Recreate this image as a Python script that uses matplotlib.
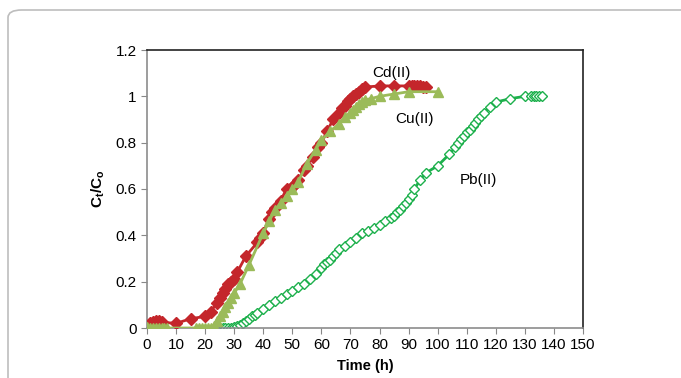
import matplotlib.pyplot as plt
from matplotlib.patches import FancyBboxPatch

plt.rcParams['font.family'] = ['Liberation Sans', 'DejaVu Sans']

# data
cd_t = [0, 1, 2, 3, 4, 5, 10, 15, 20, 22, 24, 25, 26, 27, 28, 29, 30, 31, 34, 38, 39, 40,
        42, 43, 44, 46, 48, 50, 51, 52, 54, 55, 57, 59, 60, 62, 64, 66, 67, 68, 69, 70,
        71, 72, 73, 74, 75, 80, 85, 90, 91, 92, 93, 94, 95, 96]
cd_v = [0.0, 0.02, 0.025, 0.03, 0.03, 0.025, 0.02, 0.04, 0.05, 0.07, 0.11, 0.13, 0.15, 0.17,
        0.19, 0.20, 0.21, 0.24, 0.31, 0.37, 0.39, 0.41, 0.47, 0.50, 0.52, 0.55, 0.60, 0.61,
        0.62, 0.64, 0.68, 0.70, 0.74, 0.78, 0.80, 0.85, 0.90, 0.93, 0.95, 0.96, 0.98, 0.99,
        1.00, 1.01, 1.02, 1.03, 1.04, 1.045, 1.045, 1.045, 1.045, 1.045, 1.045, 1.045, 1.04, 1.04]

cu_t = [0, 1, 2, 3, 4, 5, 6, 7, 17, 18, 19, 20, 21, 22, 23, 24, 25, 26, 27, 28, 29, 30, 32,
        35, 40, 42, 44, 46, 48, 50, 52, 55, 58, 60, 63, 66, 68, 70, 71, 72, 73, 74, 75, 77,
        80, 85, 90, 100]
cu_v = [0.005, 0.0, 0.0, 0.0, 0.0, 0.0, 0.0, 0.0, 0.0, 0.0, 0.0, 0.0, 0.0, 0.0, 0.01, 0.03,
        0.05, 0.07, 0.09, 0.11, 0.13, 0.15, 0.19, 0.27, 0.41, 0.46, 0.51, 0.54, 0.57, 0.60,
        0.63, 0.71, 0.77, 0.81, 0.85, 0.88, 0.91, 0.93, 0.94, 0.955, 0.965, 0.975, 0.985,
        0.99, 1.00, 1.01, 1.02, 1.02]

pb_t = [25, 26, 27, 28, 29, 30, 31, 32, 33, 34, 35, 36, 37, 38, 40, 42, 44, 46, 48, 50, 52,
        54, 56, 58, 60, 61, 62, 63, 64, 65, 66, 68, 70, 72, 74, 76, 78, 80, 82, 84, 85, 86,
        87, 88, 89, 90, 91, 92, 94, 96, 100, 104, 106, 107, 108, 109, 110, 111, 112, 113,
        114, 115, 116, 118, 120, 125, 130, 132, 133, 134, 135, 136]
pb_v = [0.0, 0.0, 0.0, 0.0, 0.0, 0.005, 0.01, 0.015, 0.02, 0.03, 0.04, 0.05, 0.055, 0.065,
        0.08, 0.10, 0.115, 0.13, 0.145, 0.16, 0.175, 0.19, 0.21, 0.235, 0.26, 0.275, 0.285,
        0.295, 0.31, 0.325, 0.34, 0.355, 0.37, 0.39, 0.41, 0.42, 0.43, 0.445, 0.46, 0.475,
        0.485, 0.50, 0.51, 0.525, 0.54, 0.555, 0.575, 0.60, 0.64, 0.67, 0.70, 0.75, 0.78,
        0.80, 0.815, 0.83, 0.845, 0.855, 0.87, 0.885, 0.90, 0.915, 0.93, 0.955, 0.975, 0.99,
        1.0, 1.0, 1.0, 1.0, 1.0, 1.0]

x_ticks = list(range(0, 151, 10))
y_ticks = [0, 0.2, 0.4, 0.6, 0.8, 1, 1.2]
y_labels = ['0', '0.2', '0.4', '0.6', '0.8', '1', '1.2']

fig = plt.figure(figsize=(6.81, 3.78), dpi=100)

# rounded frame around the figure
frame = FancyBboxPatch((8 / 681, -0.1), 1.2, 1.1 - 10 / 378,
                       boxstyle='round,pad=0,rounding_size=0.02',
                       transform=fig.transFigure, fill=False,
                       edgecolor='#bdbdbd', linewidth=1.2)
fig.patches.append(frame)

ax = fig.add_axes([147 / 681, 1 - 328 / 378, (583 - 147) / 681, (328 - 50) / 378])

ax.plot(pb_t, pb_v, color='#1db04c', lw=2, marker='D', ms=5,
        mfc='white', mec='#1db04c', mew=1.0, zorder=2)
ax.plot(cd_t, cd_v, color='#c4262b', lw=2, marker='D', ms=6,
        mfc='#c4262b', mec='#c4262b', zorder=3)
ax.plot(cu_t, cu_v, color='#9bbb59', lw=2, marker='^', ms=7,
        mfc='#9bbb59', mec='#9bbb59', zorder=4)

ax.text(84, 1.1, 'Cd(II)', fontsize=11, ha='center', va='center')
ax.text(92, 0.9, 'Cu(II)', fontsize=11, ha='center', va='center')
ax.text(114, 0.64, 'Pb(II)', fontsize=11, ha='center', va='center')

ax.set_xlim(0, 150)
ax.set_ylim(0, 1.2)
ax.set_xticks(x_ticks)
ax.set_yticks(y_ticks)
ax.set_yticklabels(y_labels)
ax.tick_params(labelsize=11, color='#888888', direction='out', length=4)

for s in ['left', 'bottom']:
    ax.spines[s].set_color('#8c8c8c')
for s in ['top', 'right']:
    ax.spines[s].set_color('#222222')
for s in ax.spines.values():
    s.set_linewidth(1.2)

ax.set_xlabel('Time (h)', fontsize=10.5, fontweight='bold', labelpad=5)
ax.set_ylabel('C$_\\mathregular{t}$/C$_\\mathregular{o}$', fontsize=11,
              fontweight='bold', labelpad=6)

fig.savefig('out.png', dpi=100)
